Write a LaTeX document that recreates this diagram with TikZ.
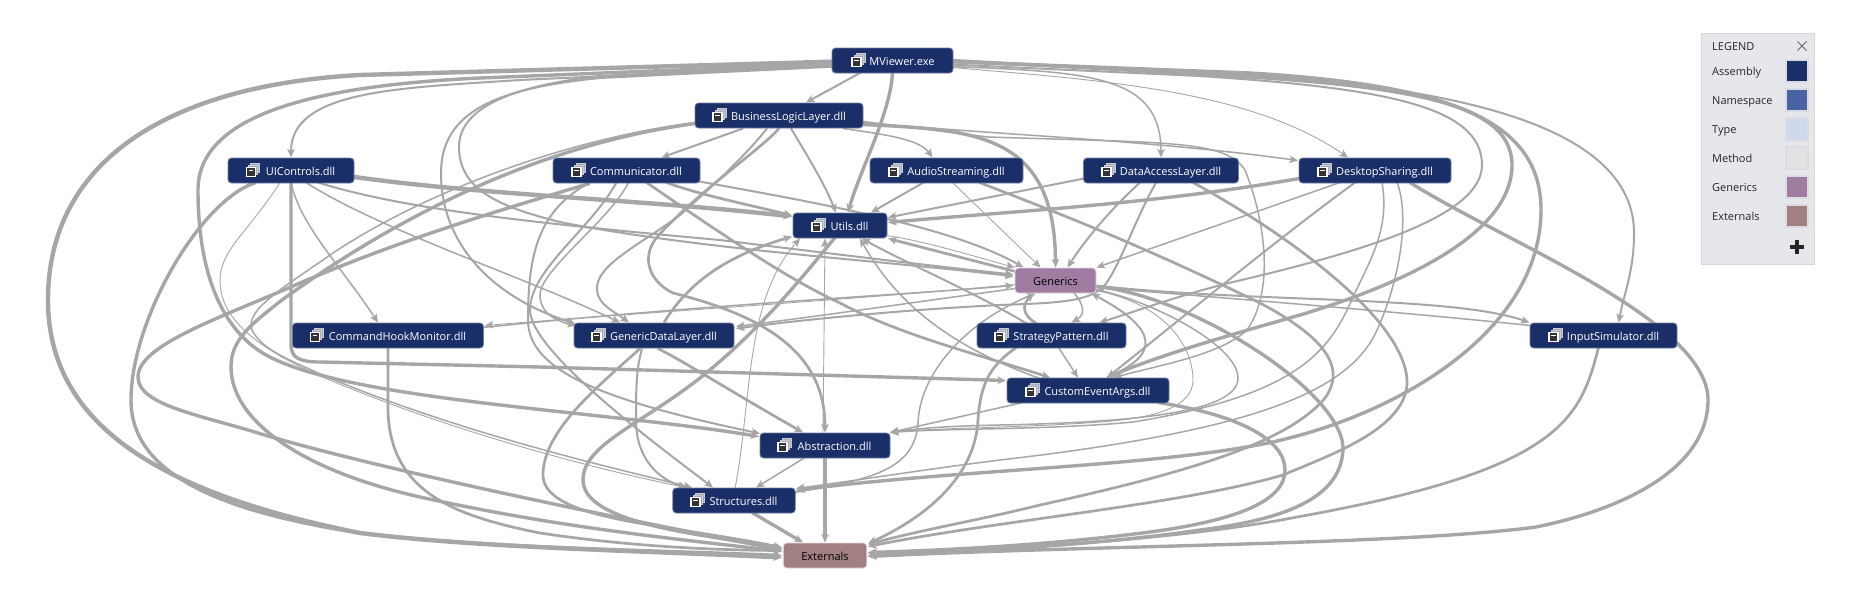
\documentclass[tikz,border=0pt]{standalone}
\usepackage{fontspec}
\setmainfont{Open Sans}
\usetikzlibrary{arrows.meta,calc}
\pgfdeclarelayer{edges}
\pgfsetlayers{edges,main}
\definecolor{conngray}{HTML}{A6A6A6}
\definecolor{asmfill}{HTML}{1A2E68}
\definecolor{asmline}{HTML}{6F7FA6}
\definecolor{genfill}{HTML}{A07CA3}
\definecolor{extfill}{HTML}{A27F80}
\definecolor{legfill}{HTML}{E6E7EB}
\definecolor{legline}{HTML}{D6D7DB}
\definecolor{swline}{HTML}{DADBE3}
\definecolor{nsfill}{HTML}{4A63A2}
\definecolor{typefill}{HTML}{CFD9EE}
\definecolor{methfill}{HTML}{E2E2E2}
\newcommand\lblfont{\fontsize{11}{13}\selectfont}
\newcommand\asm[6]{%
  \node[asmb,minimum width=#4] (#1) at (#2,#3) {\hspace{19pt}#5};
  \begin{scope}[shift={(#6,#3)}]
    \draw[iback] (4,-7) rectangle (13,2);
    \draw[iback] (2,-5) rectangle (11,4);
    \draw[ifront] (0,-3) rectangle (9,6);
    \fill[white] (2.2,-0.8) rectangle (6.8,-0.2);
  \end{scope}
}
\newcommand\legrow[4]{%
  \node[legtext] (#1t) at (1712,#3) {#2};
  \node[swatch,fill=#4] (#1s) at (1797,#3) {};
}
\tikzset{
  conn/.style={draw=conngray,-{Stealth[length=8.5pt,width=7.5pt,inset=2pt]},line join=round},
  e1/.style={conn,line width=0.9},
  e15/.style={conn,line width=1.5},
  e2/.style={conn,line width=2},
  e25/.style={conn,line width=2.7},
  e3/.style={conn,line width=3.4},
  e4/.style={conn,line width=4.4},
  box/.style={rectangle,rounded corners=3.5pt,minimum height=25pt,inner sep=0pt,font=\lblfont,line width=0.8,text height=10.5pt,text depth=1pt},
  asmb/.style={box,fill=asmfill,draw=asmline,text=white},
  iback/.style={draw=white!80!black,fill=white!60!asmfill,line width=0.7},
  ifront/.style={draw=white,fill=black!80,line width=1.5},
  legtext/.style={anchor=west,inner sep=0pt,font=\lblfont,text=black!85,text height=10.5pt,text depth=1pt},
  swatch/.style={rectangle,draw=swline,line width=2,minimum size=22pt,inner sep=0pt}
}
\begin{document}
\begin{tikzpicture}[x=1pt,y=-1pt]
\begin{pgfonlayer}{edges}
\path[use as bounding box,fill=white] (0,0) rectangle (1874,600);
\end{pgfonlayer}
% nodes
\asm{mv}{892.5}{60.5}{121pt}{MViewer.exe}{852}
\asm{bl}{779}{115.5}{168pt}{BusinessLogicLayer.dll}{713}
\asm{ui}{291}{170.5}{126pt}{UIControls.dll}{246.5}
\asm{co}{626.5}{170.5}{147pt}{Communicator.dll}{572}
\asm{au}{946.5}{170.5}{153pt}{AudioStreaming.dll}{889}
\asm{da}{1161}{170.5}{155pt}{DataAccessLayer.dll}{1102}
\asm{ds}{1375}{170.5}{152pt}{DesktopSharing.dll}{1318}
\asm{ut}{840}{225.5}{94pt}{Utils.dll}{812}
\node[box,fill=genfill,draw=white!70!genfill,minimum width=81pt] (ge) at (1055.5,280.5) {Generics};
\asm{ch}{388}{335.5}{191pt}{CommandHookMonitor.dll}{310.5}
\asm{gd}{654}{335.5}{160pt}{GenericDataLayer.dll}{592}
\asm{sp}{1051.5}{335.5}{149pt}{StrategyPattern.dll}{995}
\asm{ce}{1088}{390.5}{162pt}{CustomEventArgs.dll}{1026}
\asm{is}{1603.5}{335.5}{147pt}{InputSimulator.dll}{1549}
\asm{ab}{825}{445.5}{130pt}{Abstraction.dll}{778}
\asm{st}{734}{500.5}{122.5pt}{Structures.dll}{691}
\node[box,fill=extfill,draw=white!70!extfill,minimum width=83.5pt] (ex) at (825,555.5) {Externals};
% legend
\node[rectangle,fill=legfill,draw=legline,minimum width=113pt,minimum height=231pt,inner sep=0pt] (leg) at (1757.5,148.5) {};
\node[legtext] (legt) at (1712,46) {LEGEND};
\coordinate (xc) at (1802,46);
\draw[black!60,line width=1] ($(xc)+(-4.5,-4.5)$) -- ($(xc)+(4.5,4.5)$) ($(xc)+(4.5,-4.5)$) -- ($(xc)+(-4.5,4.5)$);
\legrow{a}{Assembly}{70.5}{asmfill}
\legrow{n}{Namespace}{99.5}{nsfill}
\legrow{t}{Type}{128.5}{typefill}
\legrow{m}{Method}{157.5}{methfill}
\legrow{g}{Generics}{186.5}{genfill}
\legrow{x}{Externals}{215.5}{extfill}
\coordinate (pl) at (1797,247);
\draw[black!85,line width=4.5] ($(pl)+(-7,0)$) -- ($(pl)+(7,0)$) ($(pl)+(0,-7)$) -- ($(pl)+(0,7)$);
% connectors
\begin{pgfonlayer}{edges}
% from MViewer
\draw[e4] ($(mv)+(-55,1)$) -- (360,75) .. controls (170,85) and (48,160) .. (48,300) .. controls (48,430) and (170,495) .. (360,533) .. controls (480,548) and (650,551) .. ($(ex)+(-43,2)$);
\draw[e3] ($(mv)+(-55,3)$) -- (480,78) .. controls (330,85) and (198,110) .. (198,190) .. controls (198,260) and (215,320) .. (258,350) .. controls (330,400) and (600,410) .. ($(ab)+(-66,-9)$);
\draw[e2] ($(mv)+(-55,5)$) -- (520,80) .. controls (400,88) and (291,90) .. ($(ui)+(0,-13)$);
\draw[e2] ($(mv)+(-55,6)$) -- (600,78) .. controls (500,88) and (441,110) .. (441,173) .. controls (441,250) and (500,300) .. ($(gd)+(-79,-12)$);
\draw[e2] ($(mv)+(-55,4)$) -- (600,76) .. controls (520,85) and (459,105) .. (459,147) .. controls (459,190) and (500,207) .. (560,222) .. controls (700,250) and (900,262) .. ($(ge)+(-42,-4)$);
\draw[e2] ($(mv)+(-28,10)$) -- ($(bl)+(27,-13)$);
\draw[e3] ($(mv)+(0,10)$) .. controls (892,110) and (860,170) .. ($(ut)+(8,-13)$);
\draw[e15] ($(mv)+(59,6)$) .. controls (1090,72) and (1161,75) .. ($(da)+(0,-13)$);
\draw[e1] ($(mv)+(59,7)$) .. controls (1100,80) and (1250,90) .. ($(ds)+(-27,-13)$);
\draw[e2] ($(mv)+(59,2)$) -- (1200,72) .. controls (1400,82) and (1634,110) .. (1634,233) .. controls (1634,270) and (1625,290) .. ($(is)+(15,-13)$);
\draw[e3] ($(mv)+(59,0)$) -- (1200,74) .. controls (1400,85) and (1512,100) .. (1512,165) .. controls (1512,235) and (1400,285) .. (1300,315) .. controls (1230,335) and (1160,355) .. ($(ce)+(19,-13)$);
\draw[e2] ($(mv)+(59,4)$) -- (1200,76) .. controls (1380,88) and (1482,105) .. (1482,165) .. controls (1482,215) and (1370,250) .. (1233,282) .. controls (1180,295) and (1140,310) .. ($(sp)+(48,-13)$);
\draw[e3] ($(mv)+(59,1)$) -- (1250,73) .. controls (1450,85) and (1541,120) .. (1541,210) .. controls (1541,330) and (1400,415) .. (1268,443) .. controls (1150,467) and (950,470) .. ($(st)+(62,-10)$);
% from UIControls
\draw[e4] ($(ui)+(60,6)$) .. controls (480,195) and (650,200) .. ($(ut)+(-48,-9)$);
\draw[e2] ($(ui)+(27,12)$) .. controls (400,208) and (520,222) .. (720,240) .. controls (850,256) and (950,268) .. ($(ge)+(-42,-6)$);
\draw[e15] ($(ui)+(15,12)$) .. controls (380,230) and (520,275) .. ($(gd)+(-34,-13)$);
\draw[e15] ($(ui)+(0,12)$) .. controls (300,225) and (340,265) .. ($(ch)+(-10,-13)$);
\draw[e3] ($(ui)+(0,10)$) -- (291,345) .. controls (291,358) and (300,362) .. (320,362) -- (540,367) -- ($(ce)+(-82,-10)$);
\draw[e3] ($(ui)+(-35,12)$) .. controls (200,200) and (131,320) .. (131,400) .. controls (131,470) and (210,510) .. (360,533) .. controls (480,548) and (650,550) .. ($(ex)+(-43,0)$);
\draw[e1] ($(ui)+(-11,12)$) .. controls (250,230) and (220,250) .. (220,280) .. controls (220,310) and (240,340) .. (318,375) .. controls (450,432) and (600,470) .. ($(st)+(-48,-13)$);
% from BusinessLogicLayer
\draw[e15] ($(bl)+(-84,7)$) .. controls (560,140) and (420,195) .. (333,253) .. controls (280,290) and (245,310) .. (252,330) .. controls (262,350) and (290,360) .. (318,373) .. controls (450,430) and (600,465) .. ($(st)+(-42,-13)$);
\draw[e3] ($(bl)+(-84,8)$) .. controls (560,142) and (420,200) .. (282,300) .. controls (250,325) and (231,340) .. (231,367) .. controls (231,420) and (300,470) .. (420,497) .. controls (570,530) and (690,540) .. ($(ex)+(-43,-4)$);
\draw[e2] ($(bl)+(-36,13)$) -- ($(co)+(35,-13)$);
\draw[e2] ($(bl)+(12,13)$) .. controls (810,160) and (825,185) .. ($(ut)+(-4,-13)$);
\draw[e15] ($(bl)+(64,13)$) .. controls (890,135) and (920,140) .. ($(au)+(-14,-13)$);
\draw[e15] ($(bl)+(84,7)$) .. controls (1000,135) and (1150,140) .. ($(ds)+(-77,-10)$);
\draw[e3] ($(bl)+(84,9)$) .. controls (970,130) and (1055,130) .. ($(ge)+(0,-13)$);
\draw[e15] ($(bl)+(84,6)$) -- (988,137) .. controls (1170,143) and (1225,140) .. (1245,170) .. controls (1265,220) and (1275,290) .. (1247,330) .. controls (1220,355) and (1160,365) .. ($(ce)+(26,-13)$);
\draw[e25] ($(bl)+(0,13)$) .. controls (760,150) and (700,190) .. (657,237) .. controls (640,258) and (650,282) .. (673,293) .. controls (760,315) and (825,350) .. ($(ab)+(0,-13)$);
\draw[e2] ($(bl)+(-12,13)$) .. controls (750,150) and (720,180) .. (680,215) .. controls (640,245) and (595,265) .. (597,290) .. controls (598,305) and (615,312) .. ($(gd)+(-25,-13)$);
% from Communicator
\draw[e3] ($(co)+(-37,13)$) .. controls (500,210) and (400,240) .. (300,283) .. controls (220,318) and (138,345) .. (138,377) .. controls (138,405) and (200,415) .. (258,433) .. controls (380,470) and (650,525) .. ($(ex)+(-43,-6)$);
\draw[e25] ($(co)+(40,12)$) .. controls (700,195) and (750,205) .. ($(ut)+(-48,-10)$);
\draw[e2] ($(co)+(73,11)$) .. controls (800,200) and (950,225) .. ($(ge)+(-32,-13)$);
\draw[e25] ($(co)+(20,12)$) .. controls (730,240) and (790,280) .. (840,303) .. controls (900,335) and (980,355) .. ($(ce)+(-38,-13)$);
\draw[e2] ($(co)+(-37,12)$) .. controls (540,210) and (528,250) .. (528,320) .. controls (528,370) and (600,400) .. ($(ab)+(-65,-12)$);
\draw[e2] ($(co)+(-10,12)$) .. controls (590,230) and (530,270) .. (530,310) .. controls (530,350) and (650,440) .. ($(st)+(-21,-13)$);
\draw[e15] ($(co)+(2,12)$) .. controls (610,220) and (540,270) .. (540,295) .. controls (540,315) and (560,322) .. ($(gd)+(-78,-10)$);
% from GenericDataLayer
\draw[e25] ($(gd)+(10,-13)$) .. controls (690,280) and (730,255) .. ($(ut)+(-48,11)$);
\draw[e25] ($(gd)+(4,13)$) .. controls (690,365) and (720,385) .. ($(ab)+(-22,-13)$);
\draw[e2] ($(gd)+(-12,13)$) .. controls (636,370) and (636,390) .. (636,420) .. controls (636,460) and (660,480) .. ($(st)+(-47,-13)$);
\draw[e25] ($(gd)+(-14,13)$) .. controls (600,385) and (543,430) .. (543,475) .. controls (543,510) and (620,520) .. (680,530) .. controls (720,536) and (750,541) .. ($(ex)+(-43,-8)$);
% from Utils, Abstraction, Structures, CommandHookMonitor
\draw[e3] ($(ut)+(-5,12)$) .. controls (800,280) and (760,330) .. (700,378) .. controls (640,425) and (583,445) .. (583,480) .. controls (583,510) and (640,525) .. (700,535) .. controls (730,540) and (760,545) .. ($(ex)+(-43,-7)$);
\draw[e1] ($(ab)+(-2,-12)$) -- ($(ut)+(-15,13)$);
\draw[e1] ($(st)+(1,-12)$) .. controls (752,400) and (745,300) .. ($(ut)+(-40,13)$);
\draw[e3] ($(st)+(18,12)$) -- ($(ex)+(-22,-13)$);
\draw[e15] ($(ab)+(-20,12)$) -- ($(st)+(22,-13)$);
\draw[e3] ($(ab)+(0,12)$) -- ($(ex)+(0,-13)$);
\draw[e25] ($(ch)+(0,12)$) -- (388,400) .. controls (385,490) and (450,515) .. (540,533) .. controls (620,545) and (700,550) .. ($(ex)+(-43,-5)$);
\draw[e15] ($(ch)+(95,-8)$) .. controls (700,305) and (900,295) .. ($(ge)+(-42,5)$);
% from Generics
\draw[e1] ($(ge)+(-40,4)$) .. controls (850,300) and (650,312) .. ($(ch)+(97,-10)$);
\draw[e15] ($(ge)+(-40,8)$) .. controls (930,300) and (850,312) .. ($(gd)+(82,-9)$);
\draw[e1] ($(ut)+(46,10)$) .. controls (920,240) and (970,255) .. ($(ge)+(-41,-13)$);
\draw[e25] ($(ge)+(-40,-9)$) -- ($(ut)+(48,13)$);
\draw[e3] ($(ge)+(40,6)$) .. controls (1190,295) and (1340,390) .. (1343,447) .. controls (1343,500) and (1280,520) .. (1200,530) .. controls (1100,545) and (950,553) .. ($(ex)+(43,0)$);
\draw[e2] ($(ge)+(40,5)$) .. controls (1250,303) and (1450,295) .. ($(is)+(-74,-13)$);
\draw[e15] ($(is)+(-73,-10)$) .. controls (1400,312) and (1250,300) .. ($(ge)+(41,7)$);
\draw[e15] ($(ge)+(18,12)$) .. controls (1085,305) and (1085,315) .. ($(sp)+(20,-13)$);
\draw[e25] ($(sp)+(-15,-12)$) .. controls (1022,315) and (1022,305) .. ($(ge)+(-22,13)$);
\draw[e2] ($(ce)+(19,-13)$) .. controls (1160,355) and (1160,330) .. ($(ge)+(36,13)$);
\draw[e15] ($(ge)+(40,9)$) .. controls (1150,300) and (1238,345) .. (1238,378) .. controls (1238,410) and (1150,422) .. (1000,425) .. controls (950,426) and (920,428) .. ($(ab)+(65,-13)$);
\draw[e1] ($(ge)+(40,10)$) .. controls (1170,305) and (1193,350) .. (1193,380) .. controls (1193,405) and (1160,418) .. (1100,422) .. controls (1020,428) and (930,428) .. ($(ab)+(65,-13)$);
\draw[e15] ($(st)+(60,-8)$) .. controls (870,480) and (915,470) .. (918,423) .. controls (920,370) and (970,320) .. ($(ge)+(-20,13)$);
% from StrategyPattern, CustomEventArgs
\draw[e2] ($(sp)+(-25,-12)$) .. controls (980,295) and (900,260) .. ($(ut)+(22,13)$);
\draw[e15] ($(sp)+(7,12)$) -- ($(ce)+(-10,-13)$);
\draw[e25] ($(sp)+(-35,12)$) .. controls (990,365) and (980,385) .. (978,420) .. controls (975,480) and (920,520) .. ($(ex)+(43,-12)$);
\draw[e15] ($(ce)+(-48,-12)$) .. controls (960,350) and (900,310) .. ($(ut)+(20,13)$);
\draw[e15] ($(ce)+(-65,12)$) -- ($(ab)+(65,-13)$);
\draw[e3] ($(ce)+(70,12)$) .. controls (1240,415) and (1285,440) .. (1285,470) .. controls (1285,500) and (1240,520) .. (1150,532) .. controls (1050,545) and (950,550) .. ($(ex)+(43,-3)$);
% from AudioStreaming
\draw[e2] ($(au)+(-23,12)$) -- ($(ut)+(31,-13)$);
\draw[e1] ($(au)+(6,12)$) -- ($(ge)+(-15,-13)$);
\draw[e25] ($(au)+(33,12)$) .. controls (1050,210) and (1130,240) .. (1260,303) .. controls (1330,340) and (1345,370) .. (1325,398) .. controls (1290,440) and (1200,470) .. (1040,505) .. controls (980,520) and (920,530) .. ($(ex)+(43,-11)$);
% from DataAccessLayer
\draw[e2] ($(da)+(-77,8)$) -- ($(ut)+(48,-8)$);
\draw[e2] ($(da)+(-21,12)$) .. controls (1110,210) and (1085,240) .. ($(ge)+(12,-13)$);
\draw[e2] ($(da)+(-5,12)$) .. controls (1135,220) and (1120,265) .. (1105,285) .. controls (1090,303) and (1050,303) .. (1000,305) .. controls (900,310) and (800,320) .. ($(gd)+(82,-7)$);
\draw[e25] ($(da)+(32,12)$) .. controls (1280,230) and (1410,320) .. (1407,385) .. controls (1403,430) and (1330,455) .. (1283,475) .. controls (1180,505) and (1000,520) .. ($(ex)+(43,-9)$);
% from DesktopSharing
\draw[e3] ($(ds)+(-76,8)$) .. controls (1150,205) and (1000,212) .. ($(ut)+(48,-3)$);
\draw[e15] ($(ds)+(-35,12)$) -- ($(ge)+(41,-13)$);
\draw[e2] ($(ds)+(-20,12)$) .. controls (1267,247) and (1180,320) .. ($(ce)+(19,-13)$);
\draw[e15] ($(ds)+(7,12)$) .. controls (1390,230) and (1370,260) .. (1353,297) .. controls (1330,350) and (1300,395) .. (1133,422) .. controls (1050,430) and (950,428) .. ($(ab)+(65,-13)$);
\draw[e15] ($(ds)+(22,12)$) .. controls (1410,215) and (1400,280) .. (1377,330) .. controls (1350,390) and (1260,430) .. (1000,460) .. controls (920,470) and (860,480) .. ($(st)+(62,-12)$);
\draw[e3] ($(ds)+(35,12)$) .. controls (1500,240) and (1708,320) .. (1708,400) .. controls (1708,470) and (1620,510) .. (1536,527) .. controls (1400,545) and (1100,545) .. ($(ex)+(43,1)$);
% from InputSimulator
\draw[e25] ($(is)+(-5,12)$) .. controls (1580,420) and (1560,470) .. (1297,517) .. controls (1180,540) and (1000,550) .. ($(ex)+(43,-2)$);
\end{pgfonlayer}
\end{tikzpicture}
\end{document}
